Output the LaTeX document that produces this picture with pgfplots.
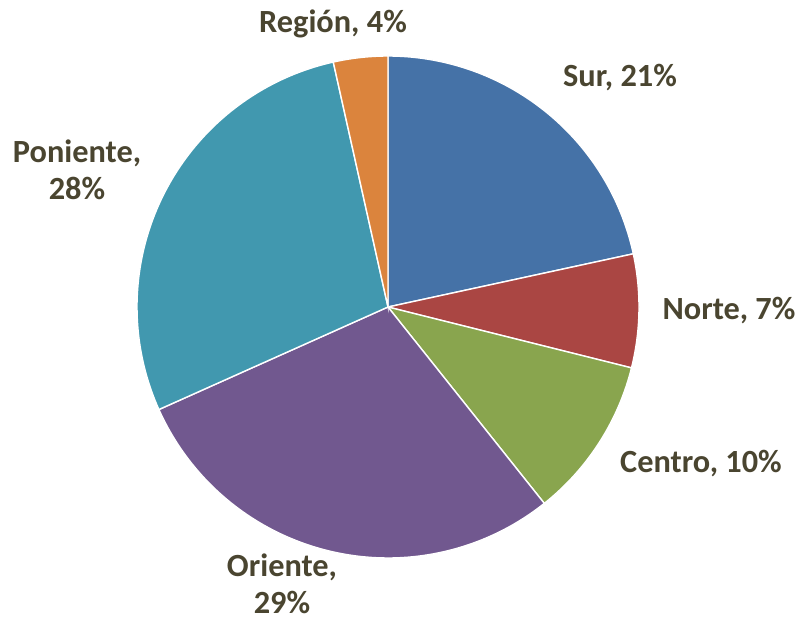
\documentclass[border=0pt]{standalone}
\usepackage{pgfplots}
\pgfplotsset{compat=1.18}
\usepackage{fontspec}
\setmainfont{Carlito}
\definecolor{cSur}{HTML}{4572A7}
\definecolor{cNorte}{HTML}{AA4643}
\definecolor{cCentro}{HTML}{89A54E}
\definecolor{cOriente}{HTML}{71588F}
\definecolor{cPoniente}{HTML}{4198AF}
\definecolor{cRegion}{HTML}{DB843D}
\definecolor{lbl}{HTML}{4A4530}
\tikzset{lab/.style={font=\fontsize{9.2}{10.6}\selectfont\bfseries, text=lbl, align=center, inner sep=0pt}}
% slice: cumulative start %, cumulative end %, colour
\newcommand\slice[3]{%
  \pgfmathsetmacro\sa{90-3.6*#2}%
  \pgfmathsetmacro\sb{90-3.6*#1}%
  \edef\tmp{\noexpand\addplot[fill=#3, draw=white, line width=0.4pt, domain=\sa:\sb, samples=90, variable=\noexpand\t]
    ({388+251*cos(\noexpand\t)},{310+251*sin(\noexpand\t)}) -- (axis cs:388,310) -- cycle;}%
  \tmp}
\begin{document}
\begin{tikzpicture}
\begin{axis}[
  width=7.99cm, height=6.17cm, scale only axis,
  xmin=0, xmax=799, ymin=0, ymax=617,
  xtick=\empty, ytick=\empty, axis line style={draw=none},
  clip=false,
]
% values (percent): Sur 21.6, Norte 7.3, Centro 10.4, Oriente 29.0, Poniente 28.2, Region 3.5
\slice{0}{21.6}{cSur}
\slice{21.6}{28.9}{cNorte}
\slice{28.9}{39.3}{cCentro}
\slice{39.3}{68.3}{cOriente}
\slice{68.3}{96.5}{cPoniente}
\slice{96.5}{100}{cRegion}
\node[lab] at (axis cs:333,593) {Región, 4\%};
\node[lab] at (axis cs:620,539) {Sur, 21\%};
\node[lab] at (axis cs:729,306) {Norte, 7\%};
\node[lab] at (axis cs:701,153) {Centro, 10\%};
\node[lab] at (axis cs:282,33) {Oriente,\\29\%};
\node[lab] at (axis cs:77,447) {Poniente,\\28\%};
\end{axis}
\pgfresetboundingbox
\path (current axis.south west) rectangle (current axis.north east);
\end{tikzpicture}
\end{document}
